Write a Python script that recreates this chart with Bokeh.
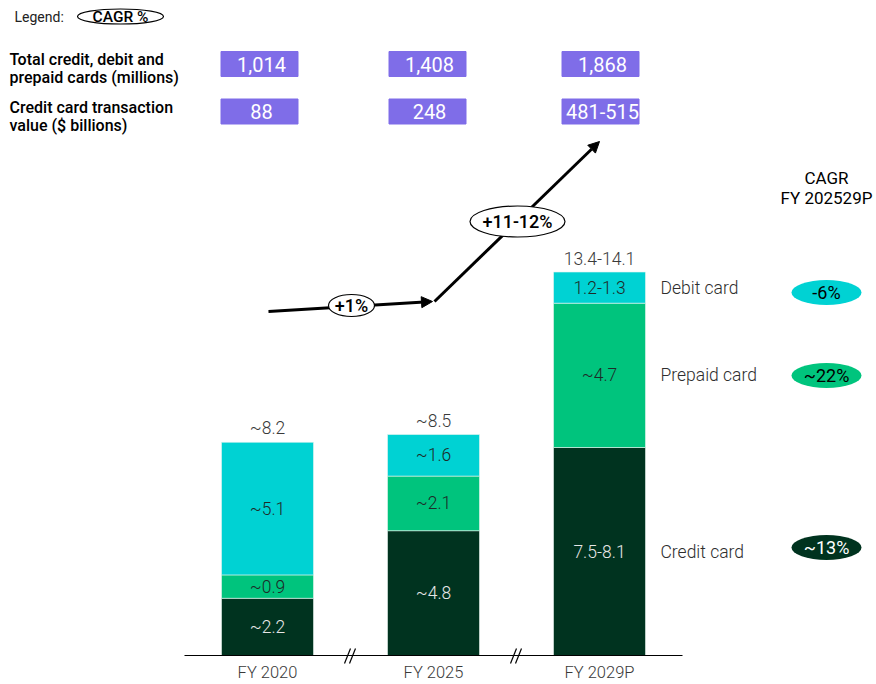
from bokeh.plotting import figure
from bokeh.models import Range1d, Arrow, NormalHead, ColumnDataSource
from bokeh.core.properties import value
from bokeh.embed import file_html
from bokeh.resources import INLINE

# ---------------- data ----------------
years = ["FY 2020", "FY 2025", "FY 2029P"]
credit = [2.2, 4.8, 8.0]
prepaid = [0.9, 2.1, 5.55]
debit = [5.1, 1.6, 1.2]
credit_lbl = ["~2.2", "~4.8", "7.5-8.1"]
prepaid_lbl = ["~0.9", "~2.1", "~4.7"]
debit_lbl = ["~5.1", "~1.6", "1.2-1.3"]
total_lbl = ["~8.2", "~8.5", "13.4-14.1"]
total_cards = ["1,014", "1,408", "1,868"]
cc_value = ["88", "248", "481-515"]
growth = ["+1%", "+11-12%"]
segments = ["Debit card", "Prepaid card", "Credit card"]
seg_cagr = ["-6%", "~22%", "~13%"]
row_labels = [["Total credit, debit and", "prepaid cards (millions)"],
              ["Credit card transaction", "value ($ billions)"]]

# ---------------- layout helpers ----------------
W, H = 876, 684
PXU = 26.0          # pixels per unit
BASE = 655.0        # pixel y of baseline


def Y(py):
    return (BASE - py) / PXU


FONT = value("Roboto")
LIGHT = value("Roboto Light, Roboto")
MEDIUM = value("Roboto Medium, Roboto")
C_DEBIT, C_PREP, C_CREDIT = "#00D2D3", "#00C47D", "#00331F"
PURPLE = "#7F6DE8"

p = figure(width=W, height=H, output_backend="svg", toolbar_location=None,
           x_range=Range1d(0, W), y_range=Range1d(Y(H), Y(0)),
           x_axis_type=None, y_axis_type=None, min_border=0,
           outline_line_color=None, background_fill_color="white",
           border_fill_color="white")
p.grid.visible = False

xpos = [267 + 166 * i for i in range(len(years))]
BW = 92

src = ColumnDataSource(dict(x=xpos, credit=credit, prepaid=prepaid, debit=debit))
p.vbar_stack(["credit", "prepaid", "debit"], x="x", width=BW, source=src,
             color=[C_CREDIT, C_PREP, C_DEBIT], line_color="#EAF5F0", line_width=0.6)

# segment labels
lx, ly, lt, lc = [], [], [], []
for i in range(len(years)):
    c, pr, d = credit[i], prepaid[i], debit[i]
    for val, bottom, txt, col in [(c, 0, credit_lbl[i], "#E6E6E6"),
                                  (pr, c, prepaid_lbl[i], "#1E2A28"),
                                  (d, c + pr, debit_lbl[i], "#1E2A28")]:
        lx.append(xpos[i]); ly.append(bottom + val / 2); lt.append(txt); lc.append(col)
p.text(x=lx, y=ly, text=lt, text_color=lc, text_font=LIGHT, text_font_size="17.5px",
       text_align="center", text_baseline="middle")

# totals
tots = [credit[i] + prepaid[i] + debit[i] for i in range(len(years))]
p.text(x=xpos, y=[t + 14 / PXU for t in tots], text=total_lbl, text_color="#3A3A3A",
       text_font=LIGHT, text_font_size="17.5px", text_align="center", text_baseline="middle")

# axis
p.segment(x0=[184], y0=[0], x1=[682], y1=[0], line_color="black", line_width=1.2)
p.text(x=xpos, y=[Y(672)] * 3, text=years, text_color="#3A3A3A", text_font=LIGHT,
       text_font_size="16.5px", text_align="center", text_baseline="middle")
bx0, by0, bx1, by1 = [], [], [], []
for i in range(len(years) - 1):
    mx = (xpos[i] + xpos[i + 1]) / 2
    for off in (-6, -1):
        bx0.append(mx + off); by0.append(Y(663)); bx1.append(mx + off + 6); by1.append(Y(648))
p.segment(x0=bx0, y0=by0, x1=bx1, y1=by1, line_color="black", line_width=1.2)

# segment names on the right (aligned with last bar's segments)
last = len(years) - 1
seg_y = [credit[last] + prepaid[last] + debit[last] / 2,
         credit[last] + prepaid[last] / 2,
         credit[last] / 2]
p.text(x=[660] * 3, y=seg_y, text=segments, text_color="#2E2E2E", text_font=LIGHT,
       text_font_size="17.5px", text_align="left", text_baseline="middle")

# CAGR header and pills
p.text(x=[826, 826], y=[Y(177), Y(197)], text=["CAGR", "FY 202529P"], text_color="black",
       text_font=FONT, text_font_size="17px", text_align="center", text_baseline="middle")
pill_y = [Y(292), Y(375), Y(547)]
p.ellipse(x=[826] * 3, y=pill_y, width=70, height=25, height_units="screen",
          fill_color=[C_DEBIT, C_PREP, C_CREDIT], line_color=None)
p.text(x=[826] * 3, y=pill_y, text=seg_cagr, text_color=["black", "black", "white"],
       text_font=FONT, text_font_size="18px", text_align="center", text_baseline="middle")

# legend
p.text(x=[14], y=[Y(16)], text=["Legend:"], text_color="#222222", text_font=FONT,
       text_font_size="14px", text_align="left", text_baseline="middle")
p.ellipse(x=[120], y=[Y(16)], width=86, height=15, height_units="screen",
          fill_color="white", line_color="black", line_width=1.2)
p.text(x=[120], y=[Y(16)], text=["CAGR %"], text_color="black", text_font=MEDIUM,
       text_font_size="15.5px", text_align="center", text_baseline="middle")

# row labels
rl_y = [[Y(59), Y(77)], [Y(107), Y(125)]]
for r in range(2):
    p.text(x=[9, 9], y=rl_y[r], text=row_labels[r], text_color="black", text_font=MEDIUM,
           text_font_size="16px", text_align="left", text_baseline="middle")

# purple boxes
box_cx = [259, 427, 600]
row_cy = [63.5, 111]
bl, br, bt, bb = [], [], [], []
for r in range(2):
    for cx in box_cx:
        bl.append(cx - 38.5); br.append(cx + 38.5)
        bt.append(Y(row_cy[r] - 12.5)); bb.append(Y(row_cy[r] + 12.5))
p.quad(left=bl, right=br, top=bt, bottom=bb, fill_color=PURPLE, line_color=PURPLE)
p.text(x=[cx + 2 for cx in box_cx] * 2,
       y=[Y(row_cy[0])] * 3 + [Y(row_cy[1])] * 3,
       text=total_cards + cc_value, text_color="white", text_font=FONT,
       text_font_size="20px", text_align="center", text_baseline="middle")

# growth arrows
p.add_layout(Arrow(end=NormalHead(size=11, fill_color="black", line_color="black"),
                   x_start=268, y_start=Y(311), x_end=432, y_end=Y(301),
                   line_width=3, line_color="black"))
p.add_layout(Arrow(end=NormalHead(size=11, fill_color="black", line_color="black"),
                   x_start=434, y_start=Y(301), x_end=599, y_end=Y(141),
                   line_width=3, line_color="black"))
g_x = [351, 517]
g_y = [Y(305), Y(221)]
er = p.ellipse(x=g_x, y=g_y, width=[46, 95], height=[22, 31], height_units="screen",
               fill_color="white", line_color="black", line_width=1.2)
er.level = "overlay"
tr = p.text(x=g_x, y=g_y, text=growth, text_color="black", text_font=MEDIUM,
            text_font_size="18px", text_align="center", text_baseline="middle")
tr.level = "overlay"

open("out.html", "w").write(file_html(p, INLINE))
